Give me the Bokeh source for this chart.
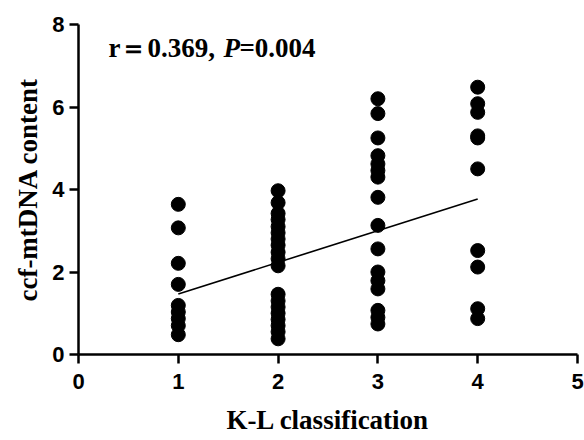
from bokeh.plotting import figure
from bokeh.models import Range1d, FixedTicker, ColumnDataSource
from bokeh.core.properties import value
from bokeh.embed import file_html
from bokeh.resources import INLINE

# K-L classification grades and ccf-mtDNA content values
kl_1 = [3.64, 3.07, 2.21, 1.70, 1.19, 1.03, 0.87, 0.70, 0.48]
kl_2 = [3.97, 3.68, 3.42, 3.27, 3.10, 2.95, 2.80, 2.65, 2.48, 2.32, 2.15,
        1.46, 1.30, 1.15, 1.00, 0.85, 0.70, 0.55, 0.38]
kl_3 = [6.20, 5.84, 5.25, 4.82, 4.62, 4.46, 4.30, 3.81, 3.13, 2.56, 2.00,
        1.79, 1.59, 1.07, 0.90, 0.74]
kl_4 = [6.48, 6.08, 5.87, 5.30, 5.25, 4.50, 2.52, 2.12, 1.11, 0.87]

# linear fit drawn in the picture (read from its end points)
fit_slope = 0.767
fit_intercept = 0.70
fit_x = [1, 4]

x_ticks = [0, 1, 2, 3, 4, 5]
y_ticks = [0, 2, 4, 6, 8]
x_title = "K-L classification"
y_title = "ccf-mtDNA content"
annotation_r = "r\uff1d0.369, "
annotation_p = "P"
annotation_pv = "=0.004"

xs = [1] * len(kl_1) + [2] * len(kl_2) + [3] * len(kl_3) + [4] * len(kl_4)
ys = kl_1 + kl_2 + kl_3 + kl_4
src = ColumnDataSource(dict(x=xs, y=ys))
fit_y = [fit_intercept + fit_slope * v for v in fit_x]

p = figure(width=584, height=440, output_backend="svg", toolbar_location=None,
           x_range=Range1d(0, 5), y_range=Range1d(0, 8),
           min_border_left=78, min_border_right=7, min_border_top=24,
           min_border_bottom=86)
p.outline_line_color = None
p.grid.grid_line_color = None
p.background_fill_color = "white"
p.border_fill_color = "white"

p.scatter("x", "y", source=src, size=14, color="black")
p.line(fit_x, fit_y, line_color="black", line_width=1.6)

ann_x = [0.30]
ann_y = [7.43]
common = dict(text_font=value("Liberation Serif"), text_font_size="27px",
              text_baseline="alphabetic", text_color="black")
p.text(ann_x, ann_y, text=[annotation_r], text_font_style="bold", **common)
p.text(ann_x, ann_y, text=[annotation_p], text_font_style="bold italic",
       x_offset=115, **common)
p.text(ann_x, ann_y, text=[annotation_pv], text_font_style="bold",
       x_offset=131, **common)

for ax in (p.xaxis[0], p.yaxis[0]):
    ax.axis_line_width = 2.5
    ax.axis_line_color = "black"
    ax.major_tick_line_width = 2.5
    ax.major_tick_line_color = "black"
    ax.major_tick_out = 9
    ax.major_tick_in = 0
    ax.minor_tick_line_color = None
    ax.major_label_text_font = "Liberation Sans"
    ax.major_label_text_font_style = "bold"
    ax.major_label_text_font_size = "22px"
    ax.major_label_text_color = "black"
    ax.axis_label_text_font = "Liberation Serif"
    ax.axis_label_text_font_style = "bold"
    ax.axis_label_text_font_size = "27px"
    ax.axis_label_text_color = "black"

p.xaxis.ticker = FixedTicker(ticks=x_ticks)
p.yaxis.ticker = FixedTicker(ticks=y_ticks)
p.xaxis.axis_label = x_title
p.yaxis.axis_label = y_title
p.xaxis.major_label_standoff = 10
p.yaxis.major_label_standoff = 5
p.xaxis.axis_label_standoff = 13
p.yaxis.axis_label_standoff = 6

open("out.html", "w").write(file_html(p, INLINE))
